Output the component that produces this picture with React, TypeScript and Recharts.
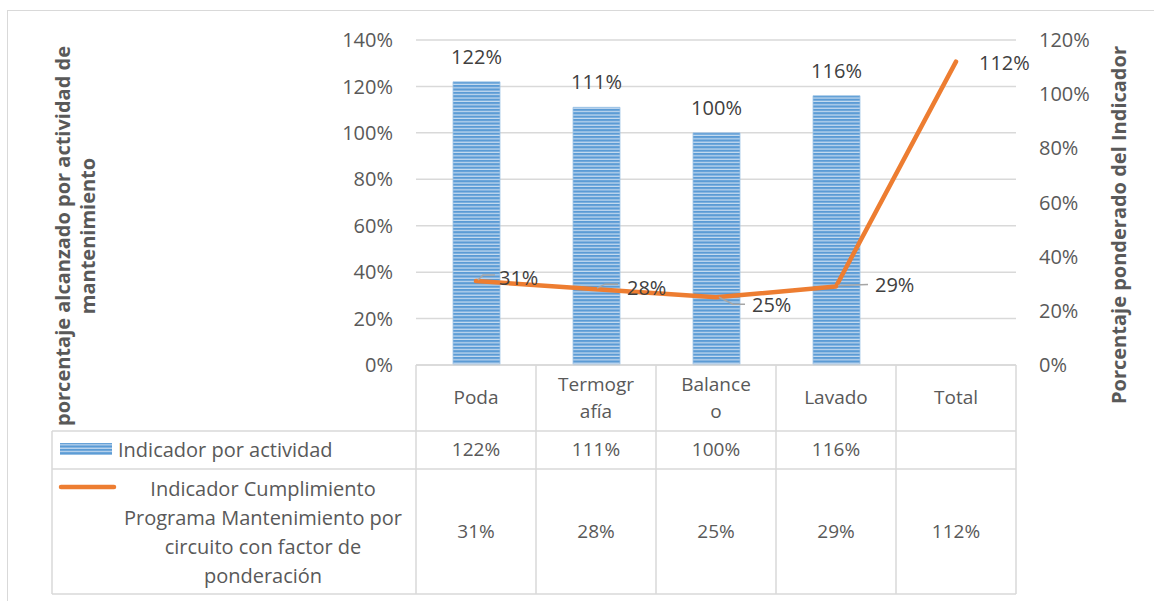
import React from 'react';
import { ComposedChart, Bar, Line, XAxis, YAxis, CartesianGrid, LabelList, Label } from 'recharts';

// ---------- data ----------
const categories = ['Poda', 'Termografía', 'Balanceo', 'Lavado', 'Total'];
const headerLines = [['Poda'], ['Termogr', 'afía'], ['Balance', 'o'], ['Lavado'], ['Total']];
const indicadorActividad: (number | null)[] = [1.22, 1.11, 1.0, 1.16, null];
const indicadorPonderado = [0.31, 0.28, 0.25, 0.29, 1.12];
const leftTicks = [0, 0.2, 0.4, 0.6, 0.8, 1.0, 1.2, 1.4];
const rightTicks = [0, 0.2, 0.4, 0.6, 0.8, 1.0, 1.2];
const barSeriesName = 'Indicador por actividad';
const lineSeriesNameLines = [
  'Indicador Cumplimiento',
  'Programa Mantenimiento por',
  'circuito con factor de',
  'ponderación',
];
const leftTitleLines = ['porcentaje alcanzado por actividad de', 'mantenimiento'];
const rightTitle = 'Porcentaje ponderado del Indicador';

const data = categories.map((name, i) => ({
  name,
  actividad: indicadorActividad[i],
  ponderado: indicadorPonderado[i],
}));

// ---------- style ----------
const FONT = '"Open Sans", "Noto Sans", sans-serif';
const GRID = '#d9d9d9';
const TEXT = '#595959';
const LABEL = '#404040';
const ORANGE = '#ED7D31';
const COL_W = 120;
const TABLE_FS = 19;
const LEGEND_FS = 20;
const TITLE_FS = 20;

const pct = (v: number) => `${Math.round(v * 100)}%`;

// label nudges (Excel-like placement) for line labels
const lineLabelStyle = [
  { dx: 23, dy: -4, lead: [[2, -1], [7, -6], [19, -6]] },
  { dx: 31, dy: -2, lead: [[1, -1], [9, -5], [22, -5]] },
  { dx: 36, dy: 7, lead: [[3, 0], [17, 7], [29, 7]] },
  { dx: 39, dy: -1.5, lead: [[2, -1], [32, -2]] },
  { dx: 23, dy: 1, lead: [] as number[][] },
];

const LineLabel = (props: any) => {
  const { x, y, value, index } = props;
  const s = lineLabelStyle[index];
  if (value == null || !s) return null;
  const pts = s.lead.map(([a, b]) => `${x + a},${y + b}`).join(' ');
  return (
    <g>
      {s.lead.length > 0 && (
        <polyline points={pts} fill="none" stroke="#a6a6a6" strokeWidth={1.5} />
      )}
      <text
        x={x + s.dx}
        y={y + s.dy}
        fill={LABEL}
        fontSize={20}
        fontFamily={FONT}
        textAnchor="start"
        dominantBaseline="central"
      >
        {pct(value)}
      </text>
    </g>
  );
};

const TableTick = (props: any) => {
  const { x, y, index } = props;
  const left = x - COL_W / 2;
  const right = x + COL_W / 2;
  const hTop = y;
  const r1 = y + 66;
  const r2 = y + 104;
  const bottom = y + 229;
  const lines = headerLines[index] || [categories[index]];
  const v1 = indicadorActividad[index];
  const v2 = indicadorPonderado[index];
  const isLast = index === categories.length - 1;
  const legendLeft = left - 364;
  const txt = {
    fill: TEXT,
    fontSize: TABLE_FS,
    fontFamily: FONT,
    textAnchor: 'middle' as const,
    dominantBaseline: 'central' as const,
  };
  return (
    <g>
      {/* column borders */}
      <line x1={left} x2={left} y1={hTop} y2={bottom} stroke={GRID} strokeWidth={1.5} />
      {isLast && <line x1={right} x2={right} y1={hTop} y2={bottom} stroke={GRID} strokeWidth={1.5} />}
      {[hTop, r1, r2, bottom].map((yy, k) => (
        <line key={k} x1={left} x2={right} y1={yy} y2={yy} stroke={GRID} strokeWidth={1.5} />
      ))}
      {/* header */}
      {lines.length === 1 ? (
        <text x={x} y={hTop + 32} {...txt}>{lines[0]}</text>
      ) : (
        lines.map((t, k) => (
          <text key={k} x={x} y={hTop + 19 + k * 27} {...txt}>{t}</text>
        ))
      )}
      {v1 != null && <text x={x} y={r1 + 18} {...txt}>{pct(v1)}</text>}
      {v2 != null && <text x={x} y={r2 + 62} {...txt}>{pct(v2)}</text>}
      {/* legend column */}
      {index === 0 && (
        <g>
          <line x1={legendLeft} x2={legendLeft} y1={r1} y2={bottom} stroke={GRID} strokeWidth={1.5} />
          {[r1, r2, bottom].map((yy, k) => (
            <line key={k} x1={legendLeft} x2={left} y1={yy} y2={yy} stroke={GRID} strokeWidth={1.5} />
          ))}
          <rect x={legendLeft + 8} y={r1 + 12} width={52} height={12} fill="url(#stripes)" />
          <text x={legendLeft + 66} y={r1 + 18} {...txt} fontSize={LEGEND_FS} textAnchor="start">
            {barSeriesName}
          </text>
          <line
            x1={legendLeft + 9}
            x2={legendLeft + 62}
            y1={r2 + 18}
            y2={r2 + 18}
            stroke={ORANGE}
            strokeWidth={4.5}
            strokeLinecap="round"
          />
          {lineSeriesNameLines.map((t, k) => (
            <text key={k} x={legendLeft + 211} y={r2 + 19 + k * 29} {...txt} fontSize={LEGEND_FS}>
              {t}
            </text>
          ))}
        </g>
      )}
    </g>
  );
};

const LeftTitle = () => (
  <g>
    {leftTitleLines.map((t, k) => {
      const cx = 62 + k * 25;
      const cy = 236;
      return (
        <text
          key={k}
          x={cx}
          y={cy}
          transform={`rotate(-90, ${cx}, ${cy})`}
          fill={TEXT}
          fontSize={TITLE_FS}
          fontWeight="bold"
          fontFamily={FONT}
          textAnchor="middle"
          dominantBaseline="central"
        >
          {t}
        </text>
      );
    })}
  </g>
);

const RightTitle = () => (
  <text
    x={1118}
    y={225}
    transform="rotate(-90, 1118, 225)"
    fill={TEXT}
    fontSize={TITLE_FS}
    fontWeight="bold"
    fontFamily={FONT}
    textAnchor="middle"
    dominantBaseline="central"
  >
    {rightTitle}
  </text>
);

export default function App() {
  return (
    <div style={{ position: 'absolute', left: 0, top: 0, width: 1154, height: 601, background: '#fff', overflow: 'hidden' }}>
      <svg width={0} height={0} style={{ position: 'absolute' }}>
        <defs>
          <pattern id="stripes" patternUnits="userSpaceOnUse" width={8} height={3.4}>
            <rect x={0} y={0} width={8} height={3.4} fill="#c9ddf1" />
            <rect x={0} y={0} width={8} height={2.2} fill="#5b9bd5" />
          </pattern>
        </defs>
      </svg>
      <div
        style={{
          position: 'absolute',
          left: 7,
          top: 10,
          width: 1170,
          height: 620,
          border: `1.5px solid ${GRID}`,
          boxSizing: 'border-box',
        }}
      />
      <div style={{ position: 'absolute', left: 0, top: 0 }}>
        <ComposedChart width={1154} height={601} data={data} margin={{ top: 40, right: 0, bottom: 0, left: 0 }}>
          <CartesianGrid yAxisId="left" vertical={false} stroke={GRID} strokeWidth={1.5} />
          <XAxis
            dataKey="name"
            height={236}
            interval={0}
            axisLine={false}
            tickLine={false}
            tickSize={0}
            tickMargin={0}
            tick={<TableTick />}
          />
          <YAxis
            yAxisId="left"
            width={416}
            domain={[0, 1.4]}
            ticks={leftTicks}
            tickFormatter={pct}
            axisLine={false}
            tickLine={false}
            tickSize={0}
            tickMargin={23}
            tick={{ fill: TEXT, fontSize: 20, fontFamily: FONT }}
          >
            <Label content={<LeftTitle />} />
          </YAxis>
          <YAxis
            yAxisId="right"
            orientation="right"
            width={138}
            domain={[0, 1.2]}
            ticks={rightTicks}
            tickFormatter={pct}
            axisLine={false}
            tickLine={false}
            tickSize={0}
            tickMargin={23}
            tick={{ fill: TEXT, fontSize: 20, fontFamily: FONT, textAnchor: 'start' }}
          >
            <Label content={<RightTitle />} />
          </YAxis>
          <Bar
            dataKey="actividad"
            yAxisId="left"
            barSize={47}
            fill="url(#stripes)"
            stroke="#9dc3e6"
            strokeWidth={0.8}
            isAnimationActive={false}
          >
            <LabelList
              dataKey="actividad"
              position="top"
              offset={18}
              formatter={(v: any) => (v == null ? '' : pct(v))}
              fill={LABEL}
              fontSize={20}
              fontFamily={FONT}
            />
          </Bar>
          <Line
            dataKey="ponderado"
            yAxisId="right"
            type="linear"
            stroke={ORANGE}
            strokeWidth={4.5}
            strokeLinecap="round"
            strokeLinejoin="round"
            dot={false}
            activeDot={false}
            isAnimationActive={false}
          >
            <LabelList dataKey="ponderado" content={<LineLabel />} />
          </Line>
        </ComposedChart>
      </div>
    </div>
  );
}
